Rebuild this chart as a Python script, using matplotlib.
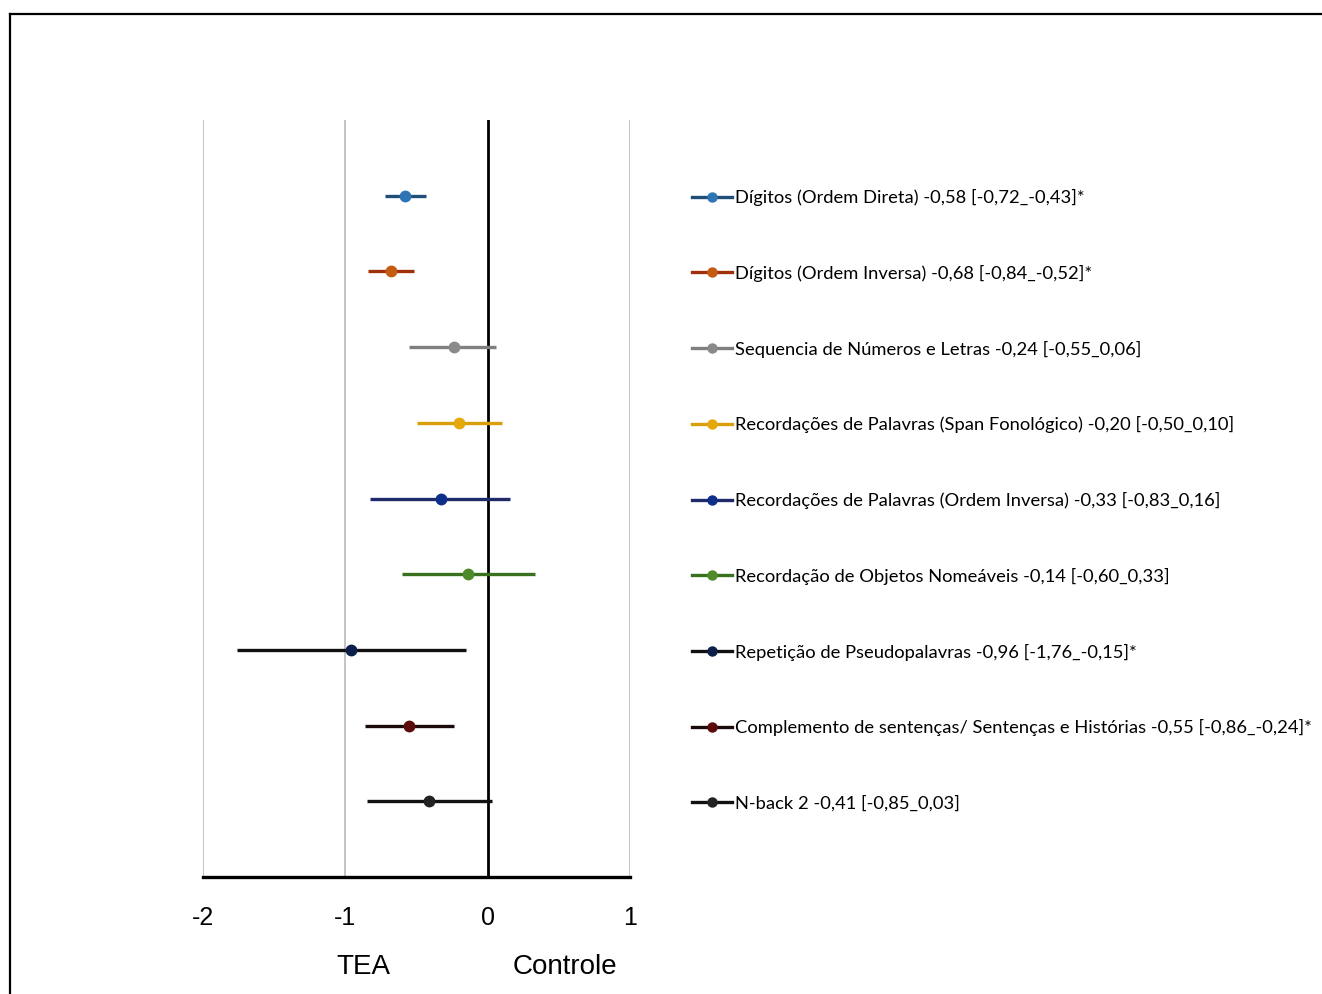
import matplotlib
matplotlib.use("Agg")
import matplotlib.pyplot as plt
from matplotlib.lines import Line2D

# ---- data ----
labels = [
    "Dígitos (Ordem Direta) -0,58 [-0,72_-0,43]*",
    "Dígitos (Ordem Inversa) -0,68 [-0,84_-0,52]*",
    "Sequencia de Números e Letras -0,24 [-0,55_0,06]",
    "Recordações de Palavras (Span Fonológico) -0,20 [-0,50_0,10]",
    "Recordações de Palavras (Ordem Inversa) -0,33 [-0,83_0,16]",
    "Recordação de Objetos Nomeáveis -0,14 [-0,60_0,33]",
    "Repetição de Pseudopalavras -0,96 [-1,76_-0,15]*",
    "Complemento de sentenças/ Sentenças e Histórias -0,55 [-0,86_-0,24]*",
    "N-back 2 -0,41 [-0,85_0,03]",
]
effect = [-0.58, -0.68, -0.24, -0.20, -0.33, -0.14, -0.96, -0.55, -0.41]
ci_low = [-0.72, -0.84, -0.55, -0.50, -0.83, -0.60, -1.76, -0.86, -0.85]
ci_high = [-0.43, -0.52, 0.06, 0.10, 0.16, 0.33, -0.15, -0.24, 0.03]
line_colors = ["#1F4E79", "#A0300A", "#7F7F7F", "#D9A00C", "#1F2A6B",
               "#38721F", "#111111", "#1A0A0A", "#111111"]
marker_colors = ["#2E75B6", "#C55A11", "#8A8A8A", "#E5A80A", "#0D2F8A",
                 "#4F8A2A", "#0B1F4A", "#5C0A0A", "#222222"]
tick_values = [-2, -1, 0, 1]
tick_labels = ["-2", "-1", "0", "1"]
group_labels = ["TEA", "Controle"]

W, H = 1322, 994
fig = plt.figure(figsize=(W / 100, H / 100), dpi=100)
ax = fig.add_axes([203 / W, 1 - 877 / H, 427 / W, (877 - 120) / H])

# grid lines
for t in tick_values:
    if t == 0:
        ax.axvline(t, color="black", lw=2.0, zorder=1)
    else:
        ax.axvline(t, color="#BFBFBF", lw=1.3, zorder=0)

handles = []
for i in range(len(labels)):
    ax.hlines(i, ci_low[i], ci_high[i], color=line_colors[i], lw=2.4, zorder=2)
    ax.plot(effect[i], i, "o", color=marker_colors[i], ms=7.5, zorder=3)
    handles.append(Line2D([], [], color=line_colors[i], lw=2.4, marker="o",
                          ms=6.5, mfc=marker_colors[i], mec=marker_colors[i]))

ax.set_xlim(-2, 1)
ax.set_ylim(len(labels), -1)
ax.set_yticks([])
ax.set_xticks(tick_values)
ax.set_xticklabels(tick_labels, fontsize=18, family="Liberation Sans")
ax.tick_params(axis="x", length=0, pad=21)
for s in ["top", "left", "right"]:
    ax.spines[s].set_visible(False)
ax.spines["bottom"].set_linewidth(2.4)
ax.spines["bottom"].set_color("black")
ax.spines["bottom"].set_zorder(4)

leg = fig.legend(handles, labels, loc="upper left",
                 bbox_to_anchor=(692 / W, 1 - 189 / H),
                 frameon=False, handlelength=2.18,
                 handletextpad=0.16, labelspacing=3.205, borderpad=0,
                 borderaxespad=0, prop={"family": "Lato", "size": 13.2})

fig.text(363 / W, 1 - 967 / H, group_labels[0], ha="center", va="center",
         fontsize=20, family="Liberation Sans")
fig.text(565 / W, 1 - 967 / H, group_labels[1], ha="center", va="center",
         fontsize=20, family="Liberation Sans")

# outer frame
fig.add_artist(Line2D([10 / W, 1], [1 - 14 / H, 1 - 14 / H], color="black",
                      lw=1.6, transform=fig.transFigure))
fig.add_artist(Line2D([10 / W, 10 / W], [0, 1 - 14 / H], color="black",
                      lw=1.6, transform=fig.transFigure))

fig.savefig("out.png", dpi=100)
